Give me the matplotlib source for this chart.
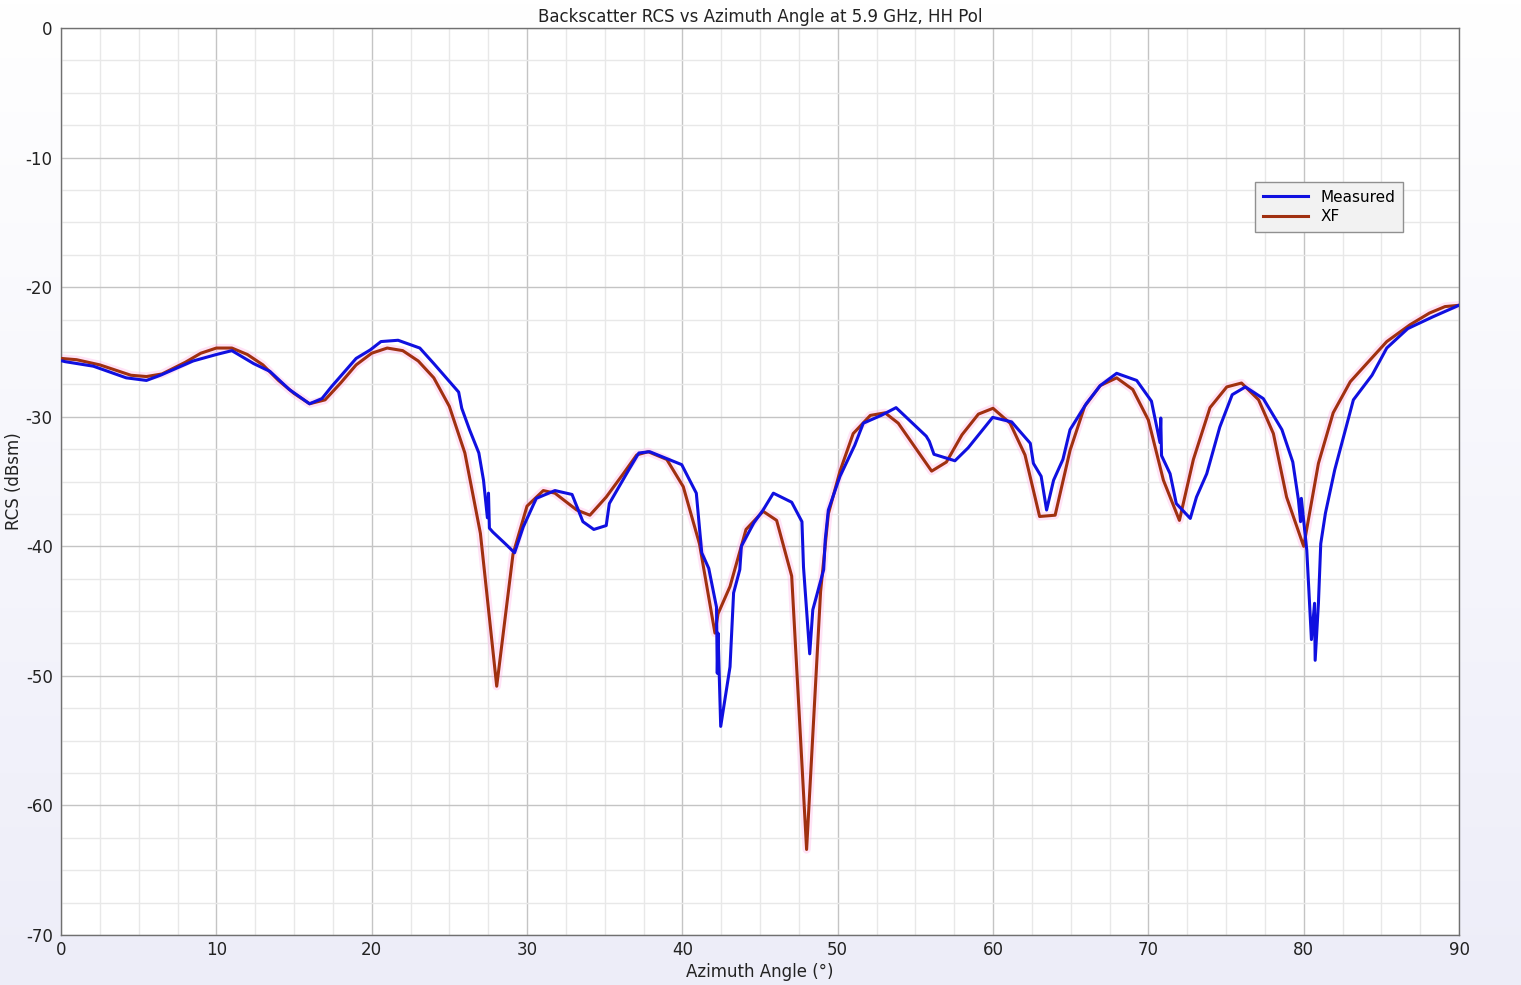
import numpy as np
import matplotlib
matplotlib.use("Agg")
import matplotlib.pyplot as plt
from matplotlib.ticker import MultipleLocator

plt.rcParams["axes.unicode_minus"] = False
plt.rcParams["font.family"] = ["DejaVu Sans"]

# ---- data ----
xf_angle = [0.0, 1.0, 2.5, 4.5, 5.5, 6.5, 8.0, 9.0, 10.0, 11.0, 12.0, 13.0, 14.0, 15.0,
            16.0, 17.0, 18.0, 19.0, 20.0, 21.0, 22.0, 23.0, 24.0, 25.0, 26.0, 27.0,
            28.05, 29.1, 30.0, 31.05, 31.8, 33.2, 34.05, 35.1, 36.2, 37.06, 37.8, 39.0,
            40.06, 41.1, 42.1, 42.3, 43.07, 44.1, 45.2, 46.07, 47.04, 48.0, 48.9, 49.4,
            50.15, 51.0, 52.1, 53.05, 53.9, 56.05, 57.0, 58.0, 59.06, 60.0, 61.1, 62.06,
            63.0, 64.0, 64.96, 65.9, 66.9, 67.96, 69.0, 70.0, 70.97, 72.0, 72.9, 73.97,
            75.05, 76.0, 77.1, 78.05, 78.9, 80.0, 80.95, 81.9, 83.0, 84.06, 85.35, 86.85,
            88.1, 89.1, 90.0]
xf_rcs = [-25.5, -25.6, -26.0, -26.8, -26.9, -26.7, -25.8, -25.1, -24.7, -24.7, -25.2, -26.0,
          -27.2, -28.2, -29.0, -28.7, -27.4, -26.0, -25.1, -24.7, -24.9, -25.7, -27.0, -29.2,
          -32.8, -39.0, -50.8, -40.6, -36.9, -35.7, -35.9, -37.2, -37.6, -36.2, -34.4, -32.95,
          -32.7, -33.3, -35.4, -39.8, -46.7, -45.2, -43.1, -38.7, -37.3, -38.0, -42.3, -63.4,
          -43.5, -37.5, -34.2, -31.3, -29.9, -29.7, -30.5, -34.2, -33.5, -31.4, -29.8, -29.35,
          -30.5, -32.95, -37.7, -37.6, -32.6, -29.2, -27.6, -27.0, -27.9, -30.25, -34.9, -38.0,
          -33.3, -29.3, -27.7, -27.4, -28.7, -31.3, -36.2, -40.0, -33.6, -29.7, -27.3, -25.9,
          -24.2, -22.9, -22.0, -21.5, -21.4]

meas_angle = [0.1, 0.26, 2.08, 4.2, 5.5, 6.4, 8.5, 10.0, 11.0, 12.4, 13.45, 14.7, 16.0, 16.8,
              17.4, 19.0, 19.9, 20.6, 21.7, 23.1, 24.0, 24.8, 25.6, 25.8, 26.3, 26.9, 27.2,
              27.45, 27.52, 27.58, 27.8, 28.6, 29.2, 29.76, 30.6, 31.8, 32.9, 33.6, 34.3, 35.1,
              35.3, 36.6, 37.2, 37.9, 39.96, 40.9, 41.25, 41.7, 42.2, 42.25, 42.3, 42.47, 43.07,
              43.3, 43.7, 43.8, 44.6, 45.2, 45.86, 47.04, 47.7, 47.8, 48.2, 48.4, 49.1, 49.2,
              49.4, 50.15, 51.1, 51.65, 52.8, 53.76, 55.7, 55.9, 56.2, 57.55, 58.4, 59.98, 61.2,
              62.4, 62.6, 63.1, 63.45, 63.9, 64.5, 64.96, 66.0, 66.9, 67.96, 69.25, 70.2, 70.75,
              70.8, 70.85, 71.4, 71.8, 72.7, 73.1, 73.76, 74.6, 75.4, 76.25, 77.4, 78.6, 79.3,
              79.66, 79.8, 79.85, 80.2, 80.5, 80.7, 80.74, 80.95, 81.1, 81.4, 82.0, 83.2, 84.4,
              85.35, 86.7, 88.3, 90.0]
meas_rcs = [-25.7, -25.75, -26.1, -27.0, -27.2, -26.8, -25.7, -25.2, -24.9, -25.9, -26.5, -27.9,
            -29.0, -28.6, -27.7, -25.5, -24.85, -24.2, -24.1, -24.7, -25.9, -27.0, -28.1, -29.35,
            -31.0, -32.8, -34.9, -37.8, -35.9, -38.6, -38.9, -39.8, -40.5, -38.5, -36.3, -35.7,
            -36.0, -38.1, -38.7, -38.4, -36.7, -34.0, -32.8, -32.7, -33.7, -35.9, -40.5, -41.7,
            -44.7, -49.8, -46.7, -53.9, -49.3, -43.6, -41.8, -40.0, -38.2, -37.2, -35.9, -36.6,
            -38.1, -41.6, -48.3, -44.9, -41.8, -39.5, -37.2, -34.6, -32.2, -30.5, -29.9, -29.3,
            -31.5, -31.9, -32.9, -33.4, -32.4, -30.05, -30.4, -32.05, -33.6, -34.6, -37.2, -34.9,
            -33.3, -31.0, -29.0, -27.6, -26.65, -27.2, -28.8, -32.0, -30.1, -33.0, -34.4, -36.7,
            -37.85, -36.2, -34.4, -30.8, -28.3, -27.7, -28.6, -31.0, -33.5, -36.4, -38.1, -36.3,
            -40.3, -47.2, -44.4, -48.8, -44.4, -39.8, -37.45, -34.1, -28.7, -26.8, -24.7, -23.2,
            -22.3, -21.4]

title = "Backscatter RCS vs Azimuth Angle at 5.9 GHz, HH Pol"
xlabel = "Azimuth Angle (°)"
ylabel = "RCS (dBsm)"
series_names = ["Measured", "XF"]

# ---- figure ----
fig = plt.figure(figsize=(15.21, 9.85), dpi=100)
fig.patch.set_facecolor("white")

# background gradient (white top -> lavender bottom)
bg = fig.add_axes([0, 0, 1, 1], zorder=-10)
grad = np.linspace(0, 1, 256).reshape(-1, 1)
top = np.array([1.0, 1.0, 1.0])
bot = np.array([0.93, 0.93, 0.975])
img = top[None, None, :] * (1 - grad[:, :, None]) + bot[None, None, :] * grad[:, :, None]
bg.imshow(img, aspect="auto", extent=[0, 1, 0, 1])
bg.set_axis_off()

ax = fig.add_axes([61 / 1521, 1 - 935 / 985, (1459 - 61) / 1521, (935 - 28) / 985])
ax.set_facecolor("white")

ax.set_xlim(0, 90)
ax.set_ylim(-70, 0)
ax.xaxis.set_major_locator(MultipleLocator(10))
ax.xaxis.set_minor_locator(MultipleLocator(2.5))
ax.yaxis.set_major_locator(MultipleLocator(10))
ax.yaxis.set_minor_locator(MultipleLocator(2.5))
ax.grid(which="major", color="#c4c4c4", linewidth=1.0)
ax.grid(which="minor", color="#e8e8e8", linewidth=1.0)
ax.set_axisbelow(True)
ax.tick_params(which="both", length=0, labelsize=12, colors="#222222")
ax.tick_params(axis="y", pad=6)
ax.tick_params(axis="x", pad=4)
for s in ax.spines.values():
    s.set_color("#707070")
    s.set_linewidth(1.0)

# faint pink halo around XF curve
ax.plot(xf_angle, xf_rcs, color="#ffb0e8", linewidth=6, alpha=0.35, zorder=2)
ax.plot(xf_angle, xf_rcs, color="#a03010", linewidth=2.2, label=series_names[1], zorder=3)
ax.plot(meas_angle, meas_rcs, color="#1010e0", linewidth=2.2, label=series_names[0], zorder=4)

handles, labels = ax.get_legend_handles_labels()
order = [labels.index("Measured"), labels.index("XF")]
leg = ax.legend([handles[i] for i in order], [labels[i] for i in order],
                loc="upper left", bbox_to_anchor=((1255 - 61) / 1398, 1 - (182 - 28) / 907),
                borderaxespad=0, fontsize=11, fancybox=False, framealpha=1,
                facecolor="#f2f2f2", edgecolor="#909090", handlelength=3.0,
                borderpad=0.5, labelspacing=0.3)
leg.get_frame().set_linewidth(1.0)

ax.set_title(title, fontsize=12, color="#222222", pad=4)
ax.set_xlabel(xlabel, fontsize=12, color="#222222", labelpad=3)
ax.set_ylabel(ylabel, fontsize=12, color="#222222", labelpad=2)

fig.savefig("out.png", dpi=100)
